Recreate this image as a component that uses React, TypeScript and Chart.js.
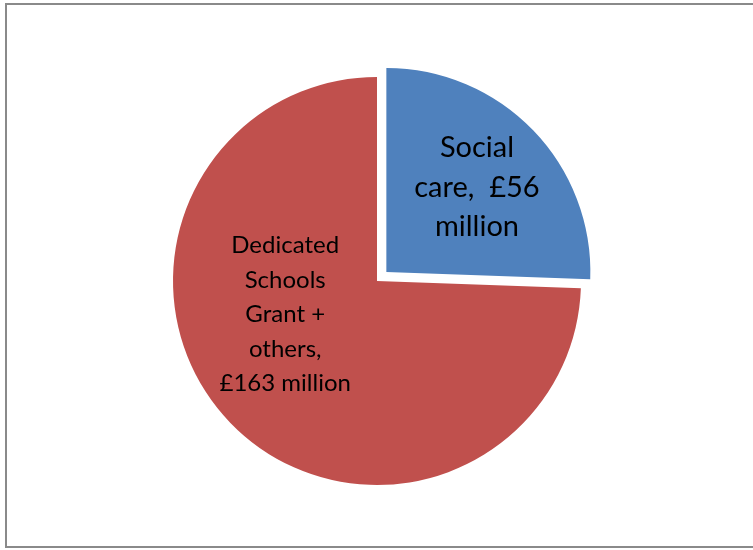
import React, { useEffect, useRef } from "react";
import { Chart, registerables } from "chart.js";

Chart.register(...registerables);

const categories = ["Social care", "Dedicated Schools Grant + others"];
const values = [56, 163];
const labelLines = [
  ["Social", "care,  £56", "million"],
  ["Dedicated", "Schools", "Grant +", "others,", "£163 million"],
];
const colors = ["#4F81BD", "#C0504D"];

const frameAndLabels = {
  id: "frameAndLabels",
  beforeDraw(chart: any) {
    const ctx = chart.ctx;
    ctx.save();
    ctx.strokeStyle = "#8a8a8a";
    ctx.lineWidth = 2;
    ctx.strokeRect(6, 4, 770, 543);
    ctx.restore();
  },
  afterDatasetsDraw(chart: any) {
    const ctx = chart.ctx;
    const meta = chart.getDatasetMeta(0);
    const styles = [
      { size: 29, lh: 39.5, dx: 0.49, dy: -0.46 },
      { size: 24, lh: 34.5, dx: -0.45, dy: 0.165 },
    ];
    meta.data.forEach((arc: any, i: number) => {
      const st = styles[i];
      const r = arc.outerRadius;
      const cx = arc.x + st.dx * r;
      const cy = arc.y + st.dy * r;
      const lines = labelLines[i];
      ctx.save();
      ctx.fillStyle = "#000";
      ctx.font = `${st.size}px Lato`;
      ctx.textAlign = "center";
      ctx.textBaseline = "middle";
      const start = cy - ((lines.length - 1) * st.lh) / 2;
      lines.forEach((l, j) => ctx.fillText(l, cx, start + j * st.lh));
      ctx.restore();
    });
  },
};

export default function App() {
  const ref = useRef<HTMLCanvasElement>(null);
  useEffect(() => {
    const chart = new Chart(ref.current!, {
      type: "pie",
      data: {
        labels: categories,
        datasets: [
          {
            data: values,
            backgroundColor: colors,
            borderWidth: 0,
            offset: [52, 0],
          },
        ],
      },
      options: {
        animation: false,
        responsive: false,
        radius: 204,
        layout: { padding: { left: 1, right: 0, top: 12, bottom: 0 } },
        plugins: { legend: { display: false }, tooltip: { enabled: false } },
      } as any,
      plugins: [frameAndLabels],
    });
    return () => chart.destroy();
  }, []);
  return (
    <div style={{ position: "absolute", left: 0, top: 0, width: 753, height: 550, background: "#fff" }}>
      <canvas ref={ref} width={753} height={550} style={{ display: "block" }} />
    </div>
  );
}
